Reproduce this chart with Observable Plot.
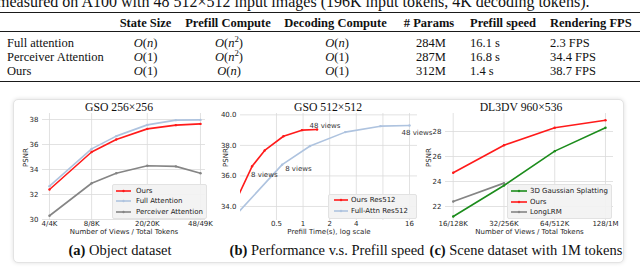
<!DOCTYPE html>
<html><head><meta charset="utf-8">
<script src="https://cdn.jsdelivr.net/npm/d3@7"></script>
<script src="https://cdn.jsdelivr.net/npm/@observablehq/plot@0.6"></script>
<style>
html,body{margin:0;padding:0;background:#fff;}
#root{position:relative;width:640px;height:269px;overflow:hidden;font-family:"Liberation Serif","Times New Roman",Tinos,serif;color:#111;}
.abs{position:absolute;white-space:nowrap;}
.rule{position:absolute;left:0;width:640px;background:#1a1a1a;}
.box{position:absolute;left:13px;top:99px;width:609px;height:162px;border:1px solid #e3e3e3;border-radius:5px;box-shadow:0 0 4px rgba(0,0,0,0.13);background:#fff;}
.leg{position:absolute;background:rgba(242,242,242,0.93);border:1px solid #e2e2e2;border-radius:2px;font-family:"DejaVu Sans";font-size:7px;color:#222;}
.plotwrap{position:absolute;}
.plotwrap svg{overflow:visible;}
</style></head><body><div id="root"></div>
<script>
// ---------------- Table data ----------------
const tableTitle = "measured on A100 with 48 512×512 input images (196K input tokens, 4K decoding tokens).";
const tableHeaders = ["State Size", "Prefill Compute", "Decoding Compute", "# Params", "Prefill speed", "Rendering FPS"];
const methods = ["Full attention", "Perceiver Attention", "Ours"];
const stateSize = ["n", "1", "1"];
const prefillCompute = ["n^2", "n^2", "n"];
const decodingCompute = ["n", "1", "1"];
const numParams = ["284M", "287M", "312M"];
const prefillSpeed = ["16.1 s", "16.8 s", "1.4 s"];
const renderingFPS = ["2.3 FPS", "34.4 FPS", "38.7 FPS"];

// ---------------- Chart (a) data ----------------
const titleA = "GSO 256×256";
const captionA = ["(a)", "Object dataset"];
const viewsA = [4, 8, 12, 20, 32, 48];
const oursA = [32.4, 35.4, 36.4, 37.25, 37.55, 37.65];
const fullAttnA = [32.67, 35.65, 36.67, 37.57, 37.95, 37.97];
const perceiverA = [30.3, 32.9, 33.7, 34.3, 34.25, 33.7];
const xTicksA = [4, 8, 20, 48];
const xTickLabelsA = ["4/4K", "8/8K", "20/20K", "48/49K"];
const yTicksA = [30, 32, 34, 36, 38];
const xLabelA = "Number of Views / Total Tokens";
const legendA = ["Ours", "Full Attention", "Perceiver Attention"];

// ---------------- Chart (b) data ----------------
const titleB = "GSO 512×512";
const captionB = ["(b)", "Performance v.s. Prefill speed"];
const oursBTime = [0.14, 0.265, 0.368, 0.60, 0.97, 1.44];
const oursBPsnr = [33.2, 36.63, 37.67, 38.6, 39.0, 39.04];
const fullBTime = [0.17, 0.58, 1.2, 3.0, 7.5, 16];
const fullBPsnr = [33.38, 36.74, 37.96, 38.87, 39.26, 39.3];
const xTicksB = [0.5, 1, 2, 4, 8, 16];
const yTicksB = [34, 36, 38, 40];
const xLabelB = "Prefill Time(s), log scale";
const legendB = ["Ours Res512", "Full-Attn Res512"];
const annotB = ["8 views", "48 views"];

// ---------------- Chart (c) data ----------------
const titleC = "DL3DV 960×536";
const captionC = ["(c)", "Scene dataset with 1M tokens"];
const viewsC = [16, 32, 64, 128];
const gaussianC = [21.2, 23.68, 26.43, 28.3];
const oursC = [24.7, 26.9, 28.3, 28.9];
const longLRMC = [22.4, 23.87];
const xTickLabelsC = ["16/128K", "32/256K", "64/512K", "128/1M"];
const yTicksC = [22, 24, 26, 28];
const xLabelC = "Number of Views / Total Tokens";
const legendC = ["3D Gaussian Splatting", "Ours", "LongLRM"];

// ---------------- Colors ----------------
const RED = "#ff1a1a", BLUE = "#aec3df", GRAY = "#858585", GREEN = "#1c8c1c";

const root = document.getElementById("root");
function put(html, left, top, style = "") {
  const d = document.createElement("div");
  d.className = "abs";
  d.style.cssText = `left:${left}px;top:${top}px;${style}`;
  d.innerHTML = html;
  root.appendChild(d);
  return d;
}
function centered(html, cx, cy, style) {
  return put(html, cx - 150, cy - 8, `width:300px;text-align:center;line-height:16px;${style}`);
}
function oNote(s) {
  const inner = s === "n" ? "<i>n</i>" : s === "n^2" ? "<i>n</i><sup style='font-size:0.7em;line-height:0'>2</sup>" : s;
  return `<i>O</i>(${inner})`;
}

// ---------------- Table ----------------
put(tableTitle, -3, -6.5, "font-size:16px;line-height:16px;");
const r1 = document.createElement("div"); r1.className = "rule"; r1.style.cssText = "top:12px;height:1.4px"; root.appendChild(r1);
const r2 = document.createElement("div"); r2.className = "rule"; r2.style.cssText = "top:30.6px;height:0.8px"; root.appendChild(r2);
const r3 = document.createElement("div"); r3.className = "rule"; r3.style.cssText = "top:80.8px;height:1.4px"; root.appendChild(r3);

const colSpec = [
  {hx: 145.5, vx: 145.5, align: "center"},
  {hx: 228, vx: 229, align: "center"},
  {hx: 335.5, vx: 337, align: "center"},
  {hx: 429, vx: 431, align: "center"},
  {hx: 470, vx: 470, align: "left"},
  {hx: 550, vx: 550, align: "left"}
];
const tfont = "font-size:12.5px;";
tableHeaders.forEach((h, i) => {
  const c = colSpec[i];
  if (c.align === "center") centered(h, c.hx, 22.7, tfont + "font-weight:bold;");
  else put(h, c.hx, 22.7 - 8, tfont + "font-weight:bold;line-height:16px;");
});
const rowY = [43.3, 57.3, 71.1];
const cols = [stateSize.map(oNote), prefillCompute.map(oNote), decodingCompute.map(oNote), numParams, prefillSpeed, renderingFPS];
methods.forEach((m, r) => {
  put(m, 7, rowY[r] - 8, tfont + "line-height:16px;");
  cols.forEach((col, i) => {
    const c = colSpec[i];
    if (c.align === "center") centered(col[r], c.vx, rowY[r], tfont);
    else put(col[r], c.vx, rowY[r] - 8, tfont + "line-height:16px;");
  });
});

// ---------------- Figure box ----------------
const box = document.createElement("div"); box.className = "box"; root.appendChild(box);

// ---------------- Plot helper ----------------
const pts = (xs, ys) => ys.map((y, i) => ({x: xs[i], y}));
const gridStyle = {stroke: "#dadada", strokeOpacity: 1, strokeWidth: 0.8};
function series(data, color, clip = false) {
  return [
    Plot.line(data, {x: "x", y: "y", stroke: color, strokeWidth: 1.6, clip}),
    Plot.dot(data, {x: "x", y: "y", fill: color, r: 1.2, clip})
  ];
}
function makePlot(cfg) {
  const svg = Plot.plot({
    width: cfg.width, height: cfg.height,
    marginLeft: cfg.ml, marginRight: cfg.mr, marginTop: cfg.mt, marginBottom: cfg.mb,
    style: {fontFamily: "DejaVu Sans", fontSize: "7px", color: "#262626", background: "transparent", overflow: "visible"},
    x: {type: "log", domain: cfg.xDomain},
    y: {domain: cfg.yDomain},
    marks: [
      Plot.gridX({ticks: cfg.xTicks, ...gridStyle}),
      Plot.gridY({ticks: cfg.yTicks, ...gridStyle}),
      Plot.axisX({ticks: cfg.xTicks, tickFormat: cfg.xFmt, tickSize: 0, tickPadding: 0.3, label: null, fontSize: 7}),
      Plot.axisY({ticks: cfg.yTicks, tickSize: 0, tickPadding: 4, label: null, fontSize: 7}),
      ...cfg.marks,
      Plot.text([cfg.xLabel], {frameAnchor: "bottom", dy: 13, text: d => d, fontSize: 7, fill: "#262626"}),
      Plot.text(["PSNR"], {frameAnchor: "left", dx: cfg.yLabelDx, rotate: -90, text: d => d, fontSize: 7, fill: "#262626"})
    ]
  });
  const w = document.createElement("div");
  w.className = "plotwrap";
  w.style.cssText = `left:${cfg.left}px;top:${cfg.top}px;width:${cfg.width}px;height:${cfg.height}px;`;
  w.appendChild(svg);
  root.appendChild(w);
}

// Chart (a)
makePlot({
  left: 14, top: 100, width: 200, height: 140, ml: 28, mr: 9, mt: 13, mb: 20,
  xDomain: [3.565, 52.12], yDomain: [29.92, 38.48],
  xTicks: xTicksA, xFmt: d => xTickLabelsA[xTicksA.indexOf(d)], yTicks: yTicksA,
  xLabel: xLabelA, yLabelDx: -17,
  marks: [
    ...series(pts(viewsA, perceiverA), GRAY),
    ...series(pts(viewsA, fullAttnA), BLUE),
    ...series(pts(viewsA, oursA), RED)
  ]
});

// Chart (b)
makePlot({
  left: 214, top: 100, width: 210, height: 140, ml: 26, mr: 7, mt: 13, mb: 20,
  xDomain: [0.196, 19.7], yDomain: [33.08, 40.09],
  xTicks: xTicksB, xFmt: d => String(d), yTicks: yTicksB,
  xLabel: xLabelB, yLabelDx: -15,
  marks: [
    ...series(pts(fullBTime, fullBPsnr), BLUE, true),
    ...series(pts(oursBTime, oursBPsnr), RED, true),
    Plot.text([annotB[0]], {x: oursBTime[1], y: oursBPsnr[1], text: d => d, textAnchor: "start", dx: -1, dy: 8.5, fontSize: 7, fill: "#333"}),
    Plot.text([annotB[0]], {x: fullBTime[1], y: fullBPsnr[1], text: d => d, textAnchor: "start", dx: 3, dy: 4, fontSize: 7, fill: "#333"}),
    Plot.text([annotB[1]], {x: oursBTime[5], y: oursBPsnr[5], text: d => d, textAnchor: "start", dx: -7.5, dy: -4, fontSize: 7, fill: "#333"}),
    Plot.text([annotB[1]], {x: fullBTime[5], y: fullBPsnr[5], text: d => d, textAnchor: "start", dx: -8, dy: 7, fontSize: 7, fill: "#333"})
  ]
});

// Chart (c)
makePlot({
  left: 424, top: 100, width: 196, height: 140, ml: 21, mr: 7, mt: 13, mb: 20,
  xDomain: [14.4, 142.8], yDomain: [20.88, 29.44],
  xTicks: viewsC, xFmt: d => xTickLabelsC[viewsC.indexOf(d)], yTicks: yTicksC,
  xLabel: xLabelC, yLabelDx: -17,
  marks: [
    ...series(pts(viewsC, longLRMC), GRAY),
    ...series(pts(viewsC, gaussianC), GREEN),
    ...series(pts(viewsC, oursC), RED)
  ]
});

// ---------------- Titles & captions ----------------
const tStyle = "font-size:11.7px;";
centered(titleA, 119, 107.5, tStyle);
centered(titleB, 328, 107.5, tStyle);
centered(titleC, 521, 107.5, tStyle);
const cStyle = "font-size:14.5px;";
centered(`<b>${captionA[0]}</b> ${captionA[1]}`, 120, 250, cStyle);
centered(`<b>${captionB[0]}</b> ${captionB[1]}`, 327, 250, cStyle);
centered(`<b>${captionC[0]}</b> ${captionC[1]}`, 526, 250, cStyle);

// ---------------- Legends ----------------
function legend(left, top, w, h, labels, colors, rowYs, swX, swW, textX) {
  const d = document.createElement("div");
  d.className = "leg";
  d.style.cssText = `left:${left}px;top:${top}px;width:${w}px;height:${h}px;`;
  labels.forEach((lab, i) => {
    const c = colors[i];
    const row = document.createElement("div");
    row.style.cssText = `position:absolute;left:0;top:${rowYs[i] - 5}px;height:10px;width:${w}px;`;
    row.innerHTML = `<svg style="position:absolute;left:${swX}px;top:2px" width="${swW}" height="6"><line x1="0" y1="3" x2="${swW}" y2="3" stroke="${c}" stroke-width="1.6"/><circle cx="${swW / 2}" cy="3" r="1.2" fill="${c}"/></svg><span style="position:absolute;left:${textX}px;top:0;line-height:10px;white-space:nowrap">${lab}</span>`;
    d.appendChild(row);
  });
  root.appendChild(d);
}
legend(112, 184, 93, 33, legendA, [RED, BLUE, GRAY], [6.3, 16.3, 26.5], 3, 15, 23);
legend(328, 194, 87, 23, legendB, [RED, BLUE], [5.3, 16], 5, 14, 22);
legend(507, 184, 103, 33, legendC, [GREEN, RED, GRAY], [6.3, 16.7, 27], 3, 16, 22);
</script></body></html>
